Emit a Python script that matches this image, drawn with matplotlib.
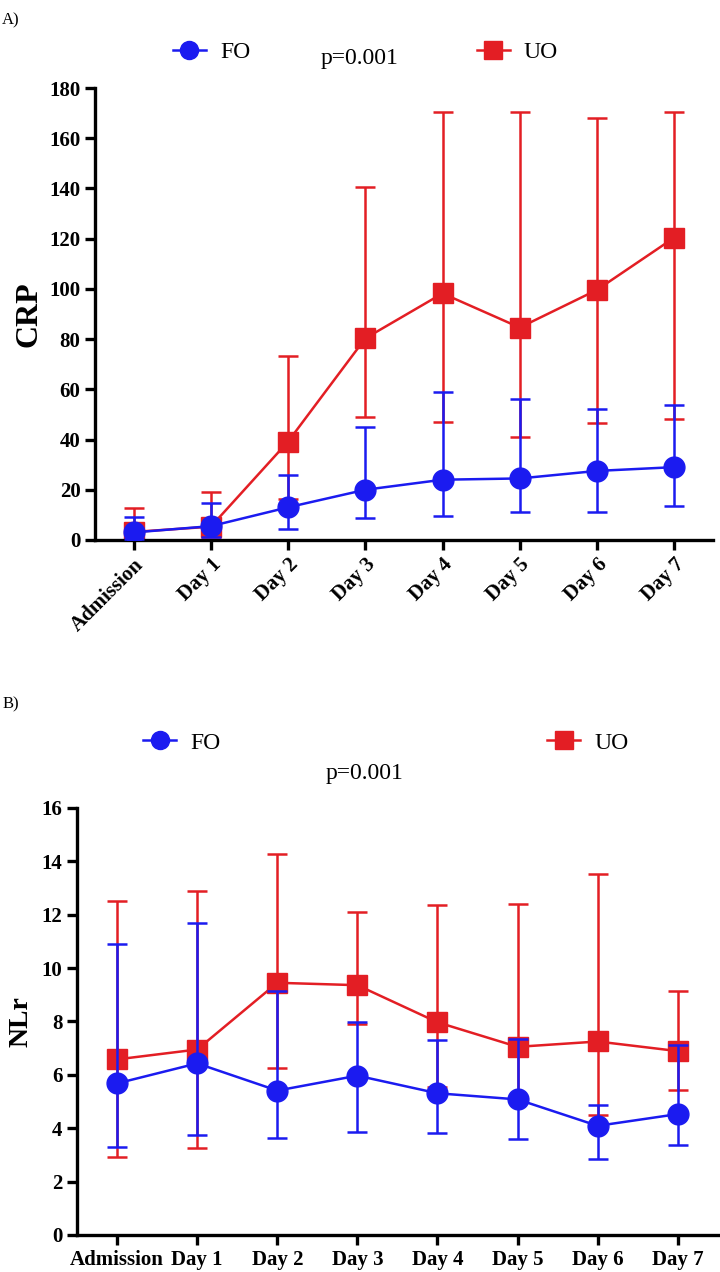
import matplotlib
matplotlib.use("Agg")
import matplotlib.pyplot as plt
from matplotlib.lines import Line2D

days = ["Admission", "Day 1", "Day 2", "Day 3", "Day 4", "Day 5", "Day 6", "Day 7"]

# Panel A - CRP
crp_fo = [3.0, 5.5, 13.0, 20.0, 24.0, 24.5, 27.5, 29.0]
crp_fo_hi = [9.3, 14.6, 25.9, 45.1, 59.0, 56.2, 52.2, 53.8]
crp_fo_lo = [0.5, 1.0, 4.3, 8.8, 9.6, 11.2, 11.2, 13.5]
crp_uo = [3.2, 5.3, 39.2, 80.3, 98.2, 84.6, 99.6, 120.4]
crp_uo_hi = [12.6, 19.1, 73.3, 140.5, 170.6, 170.6, 167.9, 170.6]
crp_uo_lo = [0.5, 1.3, 16.5, 48.9, 46.9, 41.0, 46.6, 48.2]

# Panel B - NLr
nlr_fo = [5.68, 6.43, 5.41, 5.97, 5.31, 5.08, 4.09, 4.53]
nlr_fo_hi = [10.92, 11.70, 9.15, 7.98, 7.30, 7.35, 4.86, 7.13]
nlr_fo_lo = [3.28, 3.75, 3.62, 3.85, 3.81, 3.60, 2.86, 3.37]
nlr_uo = [6.58, 6.95, 9.45, 9.36, 7.97, 7.05, 7.25, 6.89]
nlr_uo_hi = [12.52, 12.88, 14.27, 12.12, 12.37, 12.40, 13.53, 9.13]
nlr_uo_lo = [2.93, 3.25, 6.24, 7.90, 5.54, 5.12, 4.48, 5.42]

BLUE = "#1b1bf0"
RED = "#e31e24"

plt.rcParams["font.family"] = "Liberation Serif"


def errs(mean, lo, hi):
    return [[m - l for m, l in zip(mean, lo)], [h - m for m, h in zip(mean, hi)]]


def draw_panel(ax, fo, fo_lo, fo_hi, uo, uo_lo, uo_hi):
    x = range(len(days))
    ax.errorbar(x, uo, yerr=errs(uo, uo_lo, uo_hi), color=RED, marker="s",
                markersize=14, linewidth=1.8, elinewidth=1.8, capsize=7,
                capthick=1.8, zorder=2)
    ax.errorbar(x, fo, yerr=errs(fo, fo_lo, fo_hi), color=BLUE, marker="o",
                markersize=15, linewidth=1.8, elinewidth=1.8, capsize=7,
                capthick=1.8, zorder=3)
    ax.set_xlim(-0.5, 7.5)
    ax.set_xticks(list(x))
    for s in ["top", "right"]:
        ax.spines[s].set_visible(False)
    for s in ["left", "bottom"]:
        ax.spines[s].set_linewidth(2.4)
    ax.tick_params(width=2.4, length=7, direction="out")
    ax.tick_params(axis="y", labelsize=15)


fig = plt.figure(figsize=(7.2, 12.72), dpi=100)

# ---- Panel A
ax1 = fig.add_axes([0.132, 0.5755, 0.858, 0.3553])
draw_panel(ax1, crp_fo, crp_fo_lo, crp_fo_hi, crp_uo, crp_uo_lo, crp_uo_hi)
ax1.set_ylim(0, 180)
ax1.set_yticks(range(0, 181, 20))
for lab in ax1.get_yticklabels():
    lab.set_fontweight("bold")
ax1.set_xticklabels(days, rotation=45, ha="right", rotation_mode="anchor",
                    fontsize=15, fontweight="bold")
ax1.set_ylabel("CRP", fontsize=23, fontweight="bold", labelpad=4)

# ---- Panel B
ax2 = fig.add_axes([0.107, 0.0291, 0.89, 0.3357])
draw_panel(ax2, nlr_fo, nlr_fo_lo, nlr_fo_hi, nlr_uo, nlr_uo_lo, nlr_uo_hi)
ax2.set_ylim(0, 16)
ax2.set_yticks(range(0, 17, 2))
for lab in ax2.get_yticklabels():
    lab.set_fontweight("bold")
ax2.set_xticklabels(days, fontsize=15, fontweight="bold")
ax2.set_ylabel("NLr", fontsize=20, fontweight="bold", labelpad=6)


# legends: one entry each, anchored at the handle start
def add_entry(label, color, marker, x, y):
    h = Line2D([], [], color=color, marker=marker, markersize=13, linewidth=1.8)
    leg = fig.legend([h], [label], loc="center left", bbox_to_anchor=(x, y),
                     frameon=False, fontsize=17, handlelength=1.4,
                     handletextpad=0.6, borderpad=0, borderaxespad=0)
    return leg

add_entry("FO", BLUE, "o", 0.240, 0.959)
add_entry("UO", RED, "s", 0.662, 0.959)
add_entry("FO", BLUE, "o", 0.199, 0.416)
add_entry("UO", RED, "s", 0.760, 0.416)

fig.text(0.003, 0.984, "A)", fontsize=12, va="center", ha="left")
fig.text(0.003, 0.446, "B)", fontsize=12, va="center", ha="left")
fig.text(0.500, 0.954, "p=0.001", fontsize=17, va="center", ha="center")
fig.text(0.507, 0.392, "p=0.001", fontsize=17, va="center", ha="center")

fig.savefig("out.png", dpi=100)
